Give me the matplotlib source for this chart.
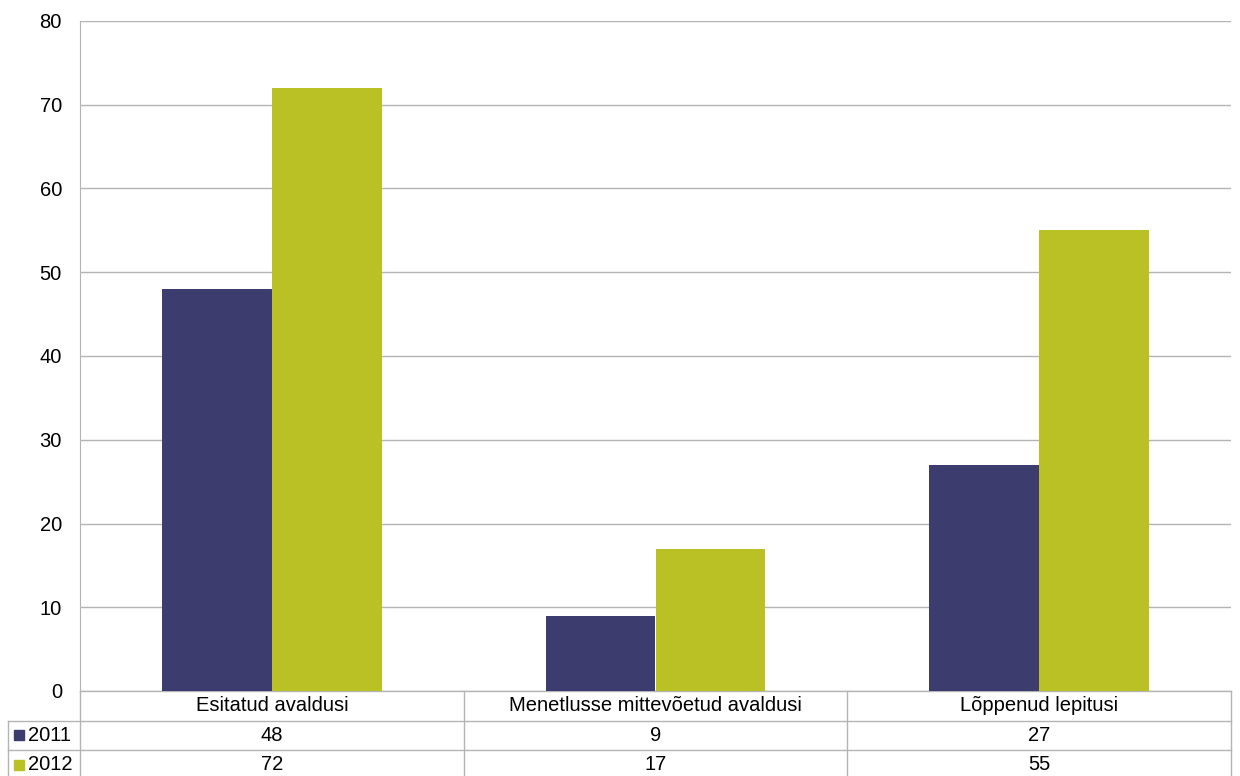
import matplotlib
matplotlib.use("Agg")
import matplotlib.pyplot as plt
import matplotlib.transforms as mtransforms
import numpy as np

plt.rcParams['font.family'] = ['Liberation Sans', 'DejaVu Sans']

categories = ["Esitatud avaldusi", "Menetlusse mittevõetud avaldusi", "Lõppenud lepitusi"]
years = ["2011", "2012"]
values_2011 = [48, 9, 27]
values_2012 = [72, 17, 55]
colors = ["#3C3D6E", "#B9C124"]
grid_col = "#B4B4B4"
fs = 14.5

fig = plt.figure(figsize=(12.4, 7.76), dpi=100)
W, H = 1240, 776
ax = fig.add_axes([80 / W, (H - 691) / H, 1151 / W, 670 / H])

x = np.arange(len(categories))
bw = 110 / 384
ax.bar(x - bw / 2, values_2011, bw, color=colors[0], zorder=3)
ax.bar(x + bw / 2, values_2012, bw, color=colors[1], zorder=3)

ax.set_xlim(-0.5, len(categories) - 0.5)
ax.set_ylim(0, 80)
ax.set_yticks(range(0, 81, 10))
ax.yaxis.grid(True, color=grid_col, linewidth=1)
ax.set_axisbelow(True)
ax.tick_params(axis='y', length=0, pad=13, labelsize=fs)
ax.set_xticks([])
for s in ["top", "right", "bottom"]:
    ax.spines[s].set_visible(False)
ax.spines["left"].set_color(grid_col)

# data table below the axes
trans = mtransforms.blended_transform_factory(ax.transData, ax.transAxes)
row_h = 29.5 / 670
y_rows = [0, -row_h, -2 * row_h, -3 * row_h]
lab_left = (8 - 80) / 1151

def hline(x0, x1, y, tr):
    ax.plot([x0, x1], [y, y], color=grid_col, lw=1, transform=tr, clip_on=False)

def vline(xx, y0, y1, tr):
    ax.plot([xx, xx], [y0, y1], color=grid_col, lw=1, transform=tr, clip_on=False)

hline(0, 1, 0, ax.transAxes)
hline(lab_left, 1, y_rows[1], ax.transAxes)
hline(lab_left, 1, y_rows[2], ax.transAxes)
hline(lab_left, 1, y_rows[3], ax.transAxes)
vline(lab_left, y_rows[1], y_rows[3], ax.transAxes)
for b in np.arange(len(categories) + 1) - 0.5:
    vline(b, 0, y_rows[3], trans)

for i, cat in enumerate(categories):
    ax.text(i, (y_rows[0] + y_rows[1]) / 2, cat, transform=trans, ha='center',
            va='center', fontsize=fs)
    for r, vals in enumerate([values_2011, values_2012]):
        ax.text(i, (y_rows[r + 1] + y_rows[r + 2]) / 2, str(vals[i]), transform=trans,
                ha='center', va='center', fontsize=fs)

for r, yr in enumerate(years):
    yc = (y_rows[r + 1] + y_rows[r + 2]) / 2
    ax.plot([(19 - 80) / 1151], [yc], marker='s', markersize=7.5, color=colors[r],
            transform=ax.transAxes, clip_on=False, linestyle='none')
    ax.text((28 - 80) / 1151, yc, yr, transform=ax.transAxes, ha='left', va='center',
            fontsize=fs)

fig.savefig("out.png", dpi=100)
